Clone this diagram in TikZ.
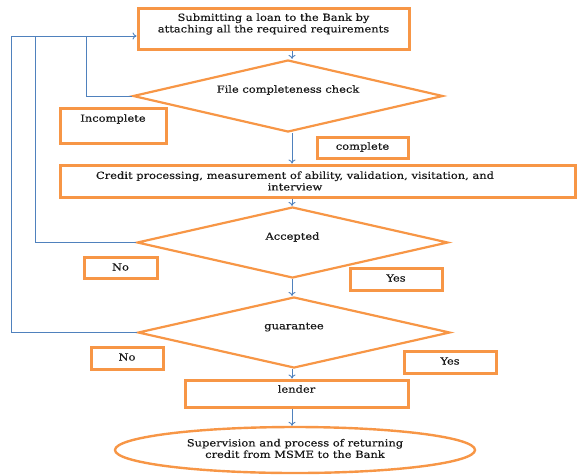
\documentclass[tikz,border=0pt]{standalone}
\usepackage{fontspec}
\setmainfont{DejaVu Serif}
\newfontfamily\widefont[FakeStretch=1.17,FakeBold=0.4]{DejaVu Serif}
\usetikzlibrary{shapes.geometric,arrows.meta}
\definecolor{oedge}{HTML}{F79646}
\definecolor{bline}{HTML}{4F81BD}
\begin{document}
\begin{tikzpicture}[x=1pt,y=-1pt,
  box/.style={draw=oedge,line width=3pt,rectangle,inner sep=0pt},
  dia/.style={draw=oedge,line width=2.2pt,diamond,inner sep=0pt,aspect=4},
  ell/.style={draw=oedge,line width=2.4pt,ellipse,inner sep=0pt},
  lbl/.style={font=\widefont\fontsize{9.8}{11.5}\selectfont,align=center,inner sep=0pt,text=black!90},
  arr/.style={draw=bline,line width=0.9pt,-{To[length=4pt,width=7pt]}},
  ln/.style={draw=bline,line width=0.9pt}]
\useasboundingbox (0,0) rectangle (577,474);
% boxes
\node[box,minimum width=271pt,minimum height=41pt] (b1) at (273.5,28.5) {};
\node[lbl] (t1) at (273.5,24) {Submitting a loan to the Bank by\\attaching all the required requirements};
\node[dia,minimum width=310pt,minimum height=72pt] (d1) at (288,96) {};
\node[lbl] (td1) at (288,90) {File completeness check};
\node[box,minimum width=106pt,minimum height=35pt] (inc) at (113,125.5) {};
\node[lbl] (tinc) at (113,119) {Incomplete};
\node[box,minimum width=91pt,minimum height=21pt] (comp) at (362.5,147.5) {};
\node[lbl] (tcomp) at (362.5,147) {complete};
\node[box,minimum width=515pt,minimum height=32pt] (cred) at (317.5,181) {};
\node[lbl] (tcred) at (295,181) {Credit processing, measurement of ability, validation, visitation, and\\interview};
\node[dia,minimum width=311pt,minimum height=71pt] (d2) at (292.5,242.5) {};
\node[lbl] (td2) at (292.5,237) {Accepted};
\node[box,minimum width=73pt,minimum height=21pt] (no1) at (120.5,267.5) {};
\node[lbl] (tno1) at (120.5,267) {No};
\node[box,minimum width=92pt,minimum height=22pt] (yes1) at (396,279) {};
\node[lbl] (tyes1) at (396,278) {Yes};
\node[dia,minimum width=312pt,minimum height=71pt] (d3) at (294,332.5) {};
\node[lbl] (td3) at (294,327) {guarantee};
\node[box,minimum width=72pt,minimum height=22pt] (no2) at (127,358) {};
\node[lbl] (tno2) at (127,357) {No};
\node[box,minimum width=92pt,minimum height=22pt] (yes2) at (450,362) {};
\node[lbl] (tyes2) at (450,361) {Yes};
\node[box,minimum width=223pt,minimum height=27pt] (lend) at (296.5,393.5) {};
\node[lbl] (tlend) at (296.5,389) {lender};
\node[ell,minimum width=360pt,minimum height=46pt] (sup) at (295,450) {};
\node[lbl] (tsup) at (295,448.5) {Supervision and process of returning\\credit from MSME to the Bank};
% connectors
\coordinate (ax) at (292,0);
\draw[arr] (b1.south -| ax) -- (d1.north -| ax);
\draw[arr] (d1.south -| ax) -- (cred.north -| ax);
\draw[arr] (cred.south -| ax) -- (d2.north -| ax);
\draw[arr] (d2.south -| ax) -- (d3.north -| ax);
\draw[arr] (d3.south -| ax) -- (lend.north -| ax);
\draw[arr] (lend.south -| ax) -- (sup.north -| ax);
% feedback loops
\coordinate (k1) at (86,36);
\coordinate (k2) at (35,36);
\coordinate (k3) at (11,36);
\draw[ln] (d1.west) -| (k1);
\draw[ln] (d2.west) -| (k2);
\draw[arr] (d3.west) -| (k3) -- (b1.west |- k3);
\end{tikzpicture}
\end{document}
